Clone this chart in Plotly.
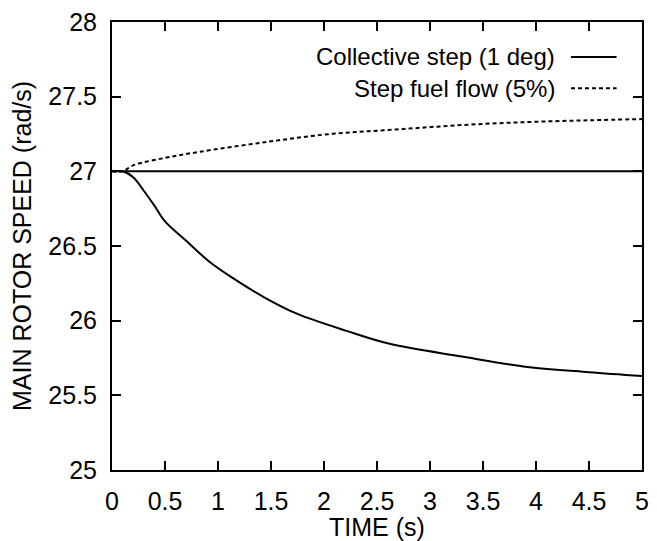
import plotly.graph_objects as go

# Data
t_collective = [0, 0.1, 0.2, 0.3, 0.4, 0.5, 0.7, 0.91, 1.13, 1.44, 1.75, 2.22, 2.62, 3.30, 3.92, 4.5, 5.0]
w_collective = [27.0, 27.0, 26.96, 26.87, 26.77, 26.665, 26.535, 26.40, 26.29, 26.155, 26.045, 25.93, 25.845, 25.76, 25.69, 25.655, 25.63]

t_fuel = [0, 0.1, 0.2, 0.5, 0.82, 1.44, 2.06, 2.68, 3.30, 3.92, 4.5, 5.0]
w_fuel = [27.0, 27.0, 27.04, 27.09, 27.13, 27.195, 27.25, 27.28, 27.31, 27.33, 27.342, 27.35]

t_ref = [0, 5]
w_ref = [27, 27]

legend_labels = ["Collective step (1 deg)", "Step fuel flow (5%)"]
x_ticks = [0, 0.5, 1, 1.5, 2, 2.5, 3, 3.5, 4, 4.5, 5]
x_ticktext = ["0", "0.5", "1", "1.5", "2", "2.5", "3", "3.5", "4", "4.5", "5"]
y_ticks = [25, 25.5, 26, 26.5, 27, 27.5, 28]
y_ticktext = ["25", "25.5", "26", "26.5", "27", "27.5", "28"]

FONT = "Liberation Sans, Arial, sans-serif"

fig = go.Figure()
fig.add_trace(go.Scatter(x=t_ref, y=w_ref, mode="lines",
                         line=dict(color="black", width=2), showlegend=False))
fig.add_trace(go.Scatter(x=t_collective, y=w_collective, mode="lines", line_shape="spline",
                         line=dict(color="black", width=2), name=legend_labels[0], showlegend=False))
fig.add_trace(go.Scatter(x=t_fuel, y=w_fuel, mode="lines", line_shape="spline",
                         line=dict(color="black", width=2, dash="4px,3px"),
                         name=legend_labels[1], showlegend=False))

# Manual legend (text on the left, sample line on the right)
leg_rows = [(0.922, "solid"), (0.852, "4px,3px")]
for (yp, dash), label in zip(leg_rows, legend_labels):
    fig.add_annotation(x=0.84, y=yp, xref="paper", yref="paper", text=label,
                       showarrow=False, xanchor="right", yanchor="middle",
                       font=dict(family=FONT, size=24, color="black"))
    fig.add_shape(type="line", xref="paper", yref="paper", x0=0.866, x1=0.952, y0=yp, y1=yp,
                  line=dict(color="black", width=2, dash=dash))

axis_common = dict(showline=True, linecolor="black", linewidth=2, mirror="ticks",
                   ticks="inside", ticklen=9, tickwidth=2, tickcolor="black",
                   showgrid=False, zeroline=False,
                   tickfont=dict(family=FONT, size=25, color="black"))

fig.update_xaxes(range=[0, 5], tickvals=x_ticks, ticktext=x_ticktext,
                 title=dict(text="TIME (s)", font=dict(family=FONT, size=25, color="black"), standoff=0),
                 ticklabelstandoff=8, **axis_common)
fig.update_yaxes(range=[25, 28], tickvals=y_ticks, ticktext=y_ticktext,
                 title=dict(text="MAIN ROTOR SPEED (rad/s)", font=dict(family=FONT, size=25, color="black"), standoff=10),
                 ticklabelstandoff=8, **axis_common)

fig.update_layout(width=657, height=541, margin=dict(l=112, r=8, t=20, b=69),
                  plot_bgcolor="white", paper_bgcolor="white", showlegend=False)

fig.write_html("out.html")
